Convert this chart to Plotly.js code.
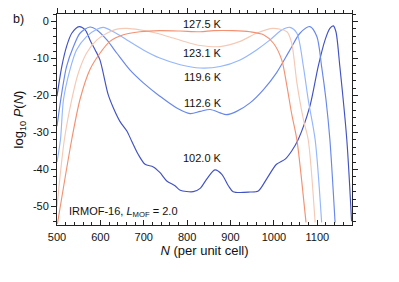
<!DOCTYPE html>
<html>
<head>
<meta charset="utf-8">
<script src="https://cdn.plot.ly/plotly-3.0.1.min.js"></script>
<style>html,body{margin:0;padding:0;background:#fff}#chart{width:399px;height:282px}</style>
</head>
<body>
<div id="chart"></div>
<script>
// Series data (N per unit cell, log10 P(N))
const temps = ["102.0 K", "112.6 K", "119.6 K", "123.1 K", "127.5 K"];

const n102 = [500,511,522,534,551,565,576,588,599,618,630,645,661,672,687,703,722,737,753,772,784,814,830,845,864,880,895,906,945,964,983,1006,1026,1041,1056,1083,1102,1118,1129,1137,1143,1152,1168,1179];
const p102 = [-20.2,-12.2,-6.8,-3.2,-1.4,-2.3,-5,-7.7,-10.4,-19.8,-23.4,-27,-29.6,-32.3,-35.9,-38.6,-39.3,-40.8,-43.1,-44.4,-45.6,-46,-45.1,-42.6,-40.1,-41.3,-44.4,-46,-46.1,-45.8,-42.6,-38.6,-37.2,-35,-31.9,-22.9,-12.2,-5,-1.9,-1.2,-2.8,-12.2,-31.9,-54];

const n112 = [500,511,522,538,553,576,592,615,638,668,699,737,776,807,830,853,876,890,914,945,976,1006,1037,1060,1083,1099,1110,1120,1129,1141];
const p112 = [-28.3,-19.3,-12.2,-6.8,-3.2,-1.5,-2.3,-5,-8.6,-13.1,-16.6,-20.2,-23.4,-24.9,-24.3,-23.8,-24.7,-25.2,-24.3,-22,-18.4,-13.9,-7.7,-3.2,-1.4,-4.1,-12.2,-21.1,-31.9,-54.3];

const n119 = [500,508,515,530,545,568,592,607,630,661,699,737,784,830,876,922,960,991,1018,1037,1053,1068,1079,1095,1110];
const p119 = [-38,-31.9,-21.1,-13,-7.7,-4.1,-2.1,-1.6,-2.8,-5,-7.7,-9.9,-11.7,-12.6,-12.2,-10.4,-7.7,-5,-2.3,-1.6,-3.2,-12.2,-21.1,-31.9,-54.3];

const n123 = [500,517,534,549,568,592,615,638,661,691,730,768,807,830,876,922,960,998,1030,1041,1053,1068,1079,1095];
const p123 = [-50,-31.9,-21.1,-14,-8.6,-5,-3.2,-2.1,-1.9,-2.3,-3.2,-4.5,-5.9,-6.5,-6.8,-5.4,-3.2,-1.9,-2.8,-5.9,-16.6,-26.5,-31.9,-54.3];

const n127 = [501,534,553,576,599,622,653,691,737,784,830,861,906,945,976,999,1018,1030,1041,1053,1064,1074];
const p127 = [-54.7,-31.9,-21.1,-13,-8.6,-5.4,-3.6,-2.8,-2.5,-2.6,-2.8,-2.5,-2.5,-2.8,-3.6,-5.9,-10.4,-17.5,-25,-32,-43,-54.3];

const labelY = [-37, -22, -14.9, -8.5, -0.8];
const xTicks = [500,600,700,800,900,1000,1100];
const yTicks = [0,-10,-20,-30,-40,-50];
const yTickText = ["0","-10","-20","-30","-40","-50"];

const colors = ["#4152c4", "#6787eb", "#95b6fd", "#f4c9b6", "#f39273"];
const seriesN = [n102, n112, n119, n123, n127];
const seriesP = [p102, p112, p119, p123, p127];

const FONT = "Liberation Sans, Arial, Helvetica, sans-serif";

const traces = seriesN.map((n, i) => ({
  x: n, y: seriesP[i], type: "scatter", mode: "lines",
  line: {color: colors[i], width: 1.15, shape: "spline", smoothing: 0.8},
  hoverinfo: "skip", showlegend: false, cliponaxis: true
}));
// helper invisible trace to draw the top axis
traces.push({x: [800], y: [0], xaxis: "x2", yaxis: "y", mode: "markers",
  marker: {opacity: 0}, hoverinfo: "skip", showlegend: false});

const annotations = temps.map((t, i) => ({
  text: t, x: 836, y: labelY[i], xref: "x", yref: "y", showarrow: false,
  xanchor: "center", yanchor: "middle", font: {family: FONT, size: 11, color: "#111"}
}));
annotations.push({text: "IRMOF-16, <i>L</i><sub>MOF</sub> = 2.0", x: 524, y: -51.4,
  xref: "x", yref: "y", showarrow: false, xanchor: "left", yanchor: "middle",
  font: {family: FONT, size: 11, color: "#111"}});
annotations.push({text: "b)", x: (11 - 57) / 295, y: 1 - 5 / 211, xref: "paper", yref: "paper",
  showarrow: false, xanchor: "left", yanchor: "middle",
  font: {family: FONT, size: 12.5, color: "#111"}});

const axisCommon = {
  showgrid: false, zeroline: false, showline: true, linecolor: "#222", linewidth: 1,
  tickcolor: "#222", tickwidth: 1, tickfont: {family: FONT, size: 11, color: "#111"}
};

const layout = {
  width: 399, height: 282,
  margin: {l: 57, r: 47, t: 14, b: 57},
  paper_bgcolor: "#fff", plot_bgcolor: "#fff",
  font: {family: FONT, size: 11, color: "#111"},
  xaxis: Object.assign({}, axisCommon, {
    range: [500, 1180], tickvals: xTicks, ticktext: xTicks.map(String),
    ticks: "inside", ticklen: 5, mirror: false, ticklabelstandoff: 2,
    minor: {dtick: 20, tick0: 500, ticks: "inside", ticklen: 3, tickcolor: "#222"},
    title: {text: "<i>N</i> (per unit cell)", font: {family: FONT, size: 13, color: "#111"}, standoff: 3}
  }),
  xaxis2: Object.assign({}, axisCommon, {
    range: [500, 1180], overlaying: "x", side: "top", anchor: "y",
    tickvals: xTicks, showticklabels: false, ticks: "outside", ticklen: 5,
    minor: {dtick: 20, tick0: 500, ticks: "outside", ticklen: 3, tickcolor: "#222"}
  }),
  yaxis: Object.assign({}, axisCommon, {
    range: [-55, 2], tickvals: yTicks, ticktext: yTickText,
    ticks: "outside", ticklen: 5, mirror: "ticks",
    minor: {dtick: 2, tick0: 0, ticks: "outside", ticklen: 3, tickcolor: "#222"},
    title: {text: "log<sub>10</sub> <i>P</i>(<i>N</i>)", font: {family: FONT, size: 13, color: "#111"}, standoff: 6}
  }),
  annotations: annotations
};

Plotly.newPlot("chart", traces, layout, {staticPlot: true, displayModeBar: false});
</script>
</body>
</html>
